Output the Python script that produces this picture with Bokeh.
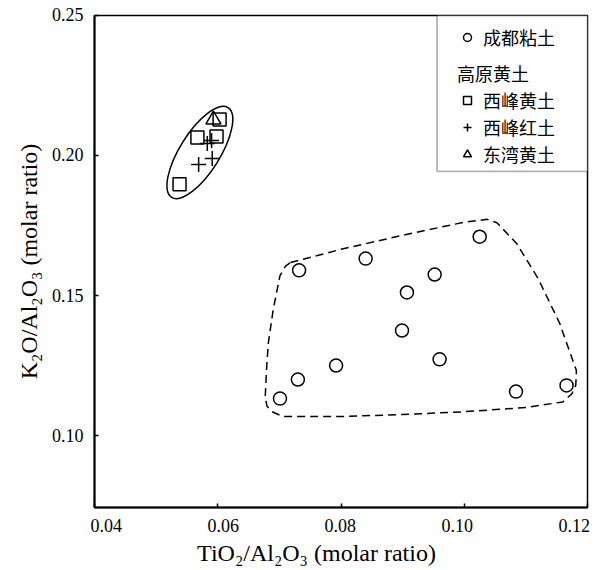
from bokeh.plotting import figure
from bokeh.models import (Legend, LegendItem, BoxAnnotation, FixedTicker, CustomJSTickFormatter,
                          Range1d, LinearAxis, Label)
from bokeh.embed import file_html
from bokeh.resources import INLINE

# ---- data ----
chengdu_x = [0.1025, 0.0840, 0.0732, 0.0952, 0.0907, 0.0899, 0.0960, 0.0792, 0.0730, 0.0701, 0.1084, 0.1166]
chengdu_y = [0.1710, 0.1632, 0.1590, 0.1575, 0.1511, 0.1375, 0.1272, 0.1250, 0.1200, 0.1132, 0.1157, 0.1179]

xifeng_loess_x = [0.0538, 0.0567, 0.0598, 0.0603]
xifeng_loess_y = [0.1897, 0.2064, 0.2068, 0.2129]

xifeng_red_x = [0.0569, 0.0591, 0.0583, 0.0590]
xifeng_red_y = [0.1968, 0.1989, 0.2043, 0.2054]

dongwan_x = [0.0593]
dongwan_y = [0.2128]

# envelope outlines (annotations)
envelope_x = [0.0718, 0.0800, 0.0900, 0.1000, 0.1037, 0.1053, 0.1085, 0.1120, 0.1155, 0.1182, 0.1181, 0.1175, 0.1160,
              0.1100, 0.1000, 0.0900, 0.0800, 0.0706, 0.0688, 0.0680, 0.0677, 0.0679, 0.0682, 0.0690, 0.0701, 0.0710, 0.0718]
envelope_y = [0.1618, 0.1665, 0.1715, 0.1762, 0.1772, 0.1760, 0.1686, 0.1560, 0.1400, 0.1232, 0.1180, 0.1150, 0.1120,
              0.1100, 0.1085, 0.1075, 0.1068, 0.1068, 0.1085, 0.1105, 0.1136, 0.1230, 0.1329, 0.1450, 0.1571, 0.1605, 0.1618]
ellipse_cx = [0.0571]
ellipse_cy = [0.2011]

x_ticks = [0.04, 0.06, 0.08, 0.10, 0.12]
y_ticks = [0.10, 0.15, 0.20, 0.25]
x_tick_labels = ["0.04", "0.06", "0.08", "0.10", "0.12"]
y_tick_labels = ["0.25", "0.20", "0.15", "0.10"]   # top to bottom

labels = ["成都粘土", "高原黄土", "西峰黄土", "西峰红土", "东湾黄土"]
x_title = "TiO₂/Al₂O₃ (molar ratio)"
y_title = "K₂O/Al₂O₃ (molar ratio)"

SERIF = "Liberation Serif"
CJK = "Noto Sans CJK SC"
NBSP = "\u00a0"

X0, X1, Y0, Y1 = 0.04, 0.12, 0.0743, 0.25
FW, FH = 493, 492
DX = (X1 - X0) / FW   # data per screen pixel
DY = (Y1 - Y0) / FH

p = figure(frame_width=FW, frame_height=FH, min_border_left=94, min_border_right=8,
           min_border_top=15, min_border_bottom=63,
           x_range=Range1d(X0, X1), y_range=Range1d(Y0, Y1),
           x_axis_type=None, y_axis_type=None,
           output_backend="svg", toolbar_location=None)

p.xgrid.visible = False
p.ygrid.visible = False
p.outline_line_color = "black"
p.outline_line_width = 1.5
p.background_fill_color = "white"
p.border_fill_color = "white"

blank = CustomJSTickFormatter(code="return ''")
tick_style = dict(
    formatter=blank, major_tick_in=4, major_tick_out=0,
    minor_tick_line_color=None,
    axis_line_color="black", axis_line_width=2,
    major_tick_line_color="black", major_tick_line_width=1.5,
    major_label_standoff=0,
)
title_style = dict(
    formatter=blank, ticker=FixedTicker(ticks=[]),
    axis_line_color=None, major_tick_line_color=None, minor_tick_line_color=None,
    major_tick_in=0, major_tick_out=0, major_label_standoff=0,
    axis_label_text_font=SERIF, axis_label_text_font_size="24px",
    axis_label_text_font_style="normal", axis_label_text_color="black",
)

# tick-carrying axes (next to the frame)
p.add_layout(LinearAxis(ticker=FixedTicker(ticks=x_ticks), **tick_style), "below")
p.add_layout(LinearAxis(ticker=FixedTicker(ticks=y_ticks), **tick_style), "left")

# serif tick labels
x_gaps = [19, 19, 19, 19]
x_text = x_tick_labels[0]
for g, s in zip(x_gaps, x_tick_labels[1:]):
    x_text += NBSP * g + s
p.add_layout(Label(x=X0 - 4 * DX, y=Y0 - 8 * DY, text=x_text, text_align="left",
                   text_baseline="top", text_font=SERIF, text_font_size="18px",
                   text_color="black"), "below")
p.add_layout(Label(x=X0 - 11 * DX, y=sum(y_ticks) / len(y_ticks), text="\n".join(y_tick_labels),
                   text_align="right", text_baseline="middle", text_line_height=7.03,
                   text_font=SERIF, text_font_size="18px", text_color="black"), "left")

# axis titles (outermost)
p.add_layout(Label(x=X0 + 222 * DX, y=Y0 - 45 * DY, text=x_title, text_align="center",
                   text_baseline="middle", text_font=SERIF, text_font_size="24px",
                   text_color="black"), "below")
p.add_layout(LinearAxis(axis_label=y_title, axis_label_standoff=21, **title_style), "left")

# envelopes
p.line(envelope_x, envelope_y, line_color="black", line_width=1.5, line_dash="8 5")
p.ellipse(x=ellipse_cx, y=ellipse_cy, width=106, height=40, angle=1.01,
          width_units="screen", height_units="screen",
          fill_color=None, line_color="black", line_width=1.5)

# data points
r_cd = p.scatter(chengdu_x, chengdu_y, marker="circle", size=13, fill_color=None,
                 line_color="black", line_width=1.5)
r_xl = p.scatter(xifeng_loess_x, xifeng_loess_y, marker="square", size=13, fill_color=None,
                 line_color="black", line_width=1.5)
r_xr = p.scatter(xifeng_red_x, xifeng_red_y, marker="cross", size=15,
                 line_color="black", line_width=1.5)
r_dw = p.scatter(dongwan_x, dongwan_y, marker="triangle", size=15, fill_color=None,
                 line_color="black", line_width=1.5)

# legend frame
box = BoxAnnotation(left=0.0956, bottom=0.1943, fill_color="white", fill_alpha=1.0,
                    line_color="black", line_width=1.8, level="overlay")
p.add_layout(box)

common = dict(border_line_alpha=0, background_fill_alpha=0, padding=0, margin=0,
              label_text_font=CJK, label_text_font_size="18px", label_text_color="black",
              glyph_width=20, glyph_height=20, label_height=20, label_standoff=6, spacing=1)

leg1 = Legend(items=[LegendItem(label=labels[0], renderers=[r_cd])],
              location=(363, 457), **common)
leg2 = Legend(items=[LegendItem(label=labels[2], renderers=[r_xl]),
                     LegendItem(label=labels[3], renderers=[r_xr]),
                     LegendItem(label=labels[4], renderers=[r_dw])],
              location=(363, 340), title=labels[1], title_text_font=CJK,
              title_text_font_size="18px", title_text_font_style="normal",
              title_text_color="black", title_standoff=1, **common)
p.add_layout(leg1)
p.add_layout(leg2)

open("out.html", "w").write(file_html(p, INLINE))
